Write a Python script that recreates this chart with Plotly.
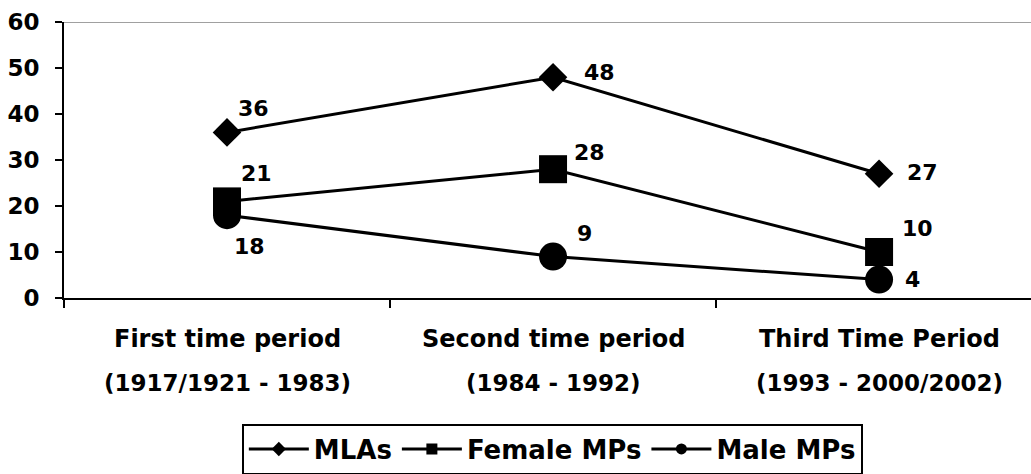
import plotly.graph_objects as go

# ---- data ----
categories = ["First time period", "Second time period", "Third Time Period"]
category_years = ["(1917/1921 - 1983)", "(1984 - 1992)", "(1993 - 2000/2002)"]
series_names = ["MLAs", "Female MPs", "Male MPs"]
mlas = [36, 48, 27]
female_mps = [21, 28, 10]
male_mps = [18, 9, 4]
y_ticks = [0, 10, 20, 30, 40, 50, 60]

series_values = [mlas, female_mps, male_mps]
symbols = ["diamond", "square", "circle"]
marker_sizes = [22, 28, 28]
# label pixel offsets (xshift, yshift) per series per point
label_offsets = [
    [(9, 24), (29, 5), (26, 1)],
    [(12, 28), (19, 17), (21, 24)],
    [(5, -31), (22, 23), (24, 0)],
]

NUM_FONT = "DejaVu Sans"

fig = go.Figure()
for name, vals, sym, ms in zip(series_names, series_values, symbols, marker_sizes):
    fig.add_trace(go.Scatter(
        x=categories, y=vals, mode="lines+markers", name=name,
        line=dict(color="black", width=3),
        marker=dict(symbol=sym, size=ms, color="black"),
        showlegend=False,
    ))
# legend entries with small markers
for name, sym in zip(series_names, symbols):
    fig.add_trace(go.Scatter(
        x=[None], y=[None], mode="lines+markers", name=name,
        line=dict(color="black", width=3),
        marker=dict(symbol=sym, size=11, color="black"),
        showlegend=True,
    ))

annotations = []
for vals, offs in zip(series_values, label_offsets):
    for cat, v, (dx, dy) in zip(categories, vals, offs):
        annotations.append(dict(
            x=cat, y=v, xref="x", yref="y", text=f"<b>{v}</b>", showarrow=False,
            xanchor="left", yanchor="middle", xshift=dx, yshift=dy,
            font=dict(family=NUM_FONT, size=22, color="black"),
        ))
for cat, yrs in zip(categories, category_years):
    annotations.append(dict(
        x=cat, y=0, xref="x", yref="y", text=f"<b>{cat}</b>", showarrow=False,
        xanchor="center", yanchor="middle", yshift=-41,
        font=dict(family=NUM_FONT, size=24, color="black"),
    ))
    annotations.append(dict(
        x=cat, y=0, xref="x", yref="y", text=f"<b>{yrs}</b>", showarrow=False,
        xanchor="center", yanchor="middle", yshift=-85,
        font=dict(family=NUM_FONT, size=23, color="black"),
    ))

fig.update_layout(
    width=1031, height=474,
    margin=dict(l=64, r=0, t=22, b=176, autoexpand=False),
    paper_bgcolor="white", plot_bgcolor="white",
    annotations=annotations,
    shapes=[dict(type="line", xref="paper", x0=0, x1=1, yref="y", y0=60, y1=60,
                 line=dict(color="#a0a0a0", width=2), layer="below")],
    legend=dict(
        orientation="h", x=0.505, xanchor="center", y=-0.455, yanchor="top",
        bordercolor="black", borderwidth=2, bgcolor="white",
        font=dict(family=NUM_FONT, size=26, color="black", weight="bold"),
        itemwidth=60, tracegroupgap=0,
    ),
    xaxis=dict(
        type="category", range=[-0.5, 2.466],
        showline=True, linecolor="black", linewidth=2,
        ticks="outside", tickson="boundaries", ticklen=8, tickwidth=2, tickcolor="black",
        showticklabels=False, showgrid=False, zeroline=False, automargin=False,
    ),
    yaxis=dict(
        range=[0, 60], tickvals=y_ticks,
        showline=True, linecolor="black", linewidth=2,
        ticks="outside", ticklen=7, tickwidth=2, tickcolor="black",
        ticklabelstandoff=11,
        tickfont=dict(family=NUM_FONT, size=23, color="black", weight="bold"),
        showgrid=False, zeroline=False, automargin=False,
    ),
)

fig.write_html("out.html", config={"displayModeBar": False},
               post_script="document.body.style.margin='0';")
